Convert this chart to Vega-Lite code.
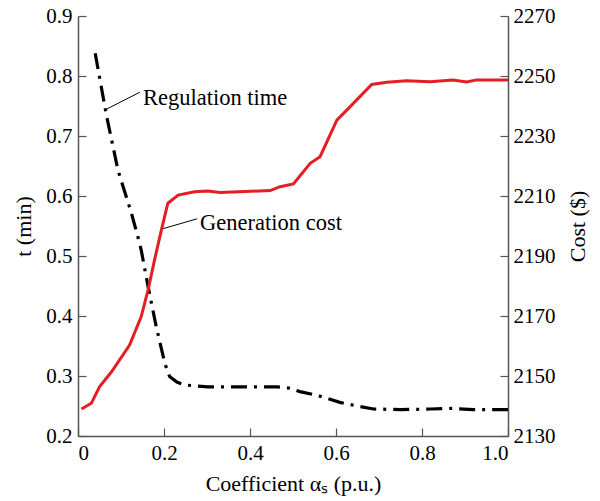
{
  "$schema": "https://vega.github.io/schema/vega-lite/v6.json",
  "width": 430,
  "height": 420,
  "autosize": {"type": "none"},
  "padding": {"left": 78, "top": 16, "right": 92, "bottom": 65},
  "background": "white",
  "config": {
    "view": {"stroke": null},
    "font": "Liberation Serif",
    "axis": {
      "labelFont": "Liberation Serif",
      "titleFont": "Liberation Serif",
      "labelFontSize": 21,
      "titleFontSize": 22,
      "labelColor": "black",
      "titleColor": "black",
      "titleFontWeight": "normal",
      "domainColor": "#555555",
      "domainWidth": 1.5,
      "tickColor": "#555555",
      "tickWidth": 1.2,
      "tickSize": -8,
      "grid": false
    }
  },
  "datasets": {
    "time": [
      {"a": 0.040, "t": 0.838},
      {"a": 0.066, "t": 0.735},
      {"a": 0.093, "t": 0.643},
      {"a": 0.124, "t": 0.572},
      {"a": 0.140, "t": 0.530},
      {"a": 0.147, "t": 0.510},
      {"a": 0.163, "t": 0.449},
      {"a": 0.182, "t": 0.382},
      {"a": 0.202, "t": 0.321},
      {"a": 0.213, "t": 0.299},
      {"a": 0.230, "t": 0.290},
      {"a": 0.248, "t": 0.285},
      {"a": 0.302, "t": 0.282},
      {"a": 0.400, "t": 0.282},
      {"a": 0.462, "t": 0.282},
      {"a": 0.490, "t": 0.280},
      {"a": 0.516, "t": 0.274},
      {"a": 0.555, "t": 0.268},
      {"a": 0.609, "t": 0.256},
      {"a": 0.656, "t": 0.249},
      {"a": 0.687, "t": 0.245},
      {"a": 0.750, "t": 0.244},
      {"a": 0.820, "t": 0.245},
      {"a": 0.870, "t": 0.246},
      {"a": 0.920, "t": 0.244},
      {"a": 1.000, "t": 0.244}
    ],
    "cost": [
      {"a": 0.008, "c": 2139.0},
      {"a": 0.031, "c": 2140.9},
      {"a": 0.050, "c": 2146.4},
      {"a": 0.078, "c": 2151.4},
      {"a": 0.120, "c": 2160.3},
      {"a": 0.147, "c": 2169.8},
      {"a": 0.163, "c": 2178.7},
      {"a": 0.178, "c": 2188.7},
      {"a": 0.194, "c": 2198.7},
      {"a": 0.209, "c": 2207.6},
      {"a": 0.233, "c": 2210.3},
      {"a": 0.271, "c": 2211.4},
      {"a": 0.302, "c": 2211.7},
      {"a": 0.330, "c": 2211.2},
      {"a": 0.390, "c": 2211.5},
      {"a": 0.447, "c": 2211.8},
      {"a": 0.470, "c": 2213.1},
      {"a": 0.501, "c": 2214.0},
      {"a": 0.540, "c": 2220.9},
      {"a": 0.563, "c": 2223.1},
      {"a": 0.602, "c": 2235.3},
      {"a": 0.633, "c": 2239.8},
      {"a": 0.683, "c": 2247.2},
      {"a": 0.718, "c": 2247.9},
      {"a": 0.764, "c": 2248.4},
      {"a": 0.819, "c": 2248.1},
      {"a": 0.872, "c": 2248.7},
      {"a": 0.904, "c": 2248.0},
      {"a": 0.927, "c": 2248.7},
      {"a": 1.000, "c": 2248.7}
    ],
    "labels": [
      {"a": 0.151, "t": 0.763, "label": "Regulation time"},
      {"a": 0.284, "t": 0.555, "label": "Generation cost"}
    ],
    "leaders": [
      {"a": 0.067, "t": 0.745, "a2": 0.144, "t2": 0.773},
      {"a": 0.195, "t": 0.545, "a2": 0.277, "t2": 0.562}
    ]
  },
  "layer": [
    {
      "layer": [
        {
          "data": {"name": "time"},
          "mark": {"type": "line", "color": "black", "strokeWidth": 3.2, "strokeDash": [16, 7, 3, 7], "strokeCap": "butt"},
          "encoding": {
            "x": {
              "field": "a", "type": "quantitative",
              "scale": {"domain": [0, 1]},
              "axis": {"values": [0, 0.2, 0.4, 0.6, 0.8, 1.0], "labelExpr": "datum.value == 0 ? '0' : format(datum.value, '.1f')", "title": "Coefficient α\u209b (p.u.)", "labelPadding": 14, "titlePadding": 10}
            },
            "y": {
              "field": "t", "type": "quantitative",
              "scale": {"domain": [0.2, 0.9]},
              "axis": {"values": [0.2, 0.3, 0.4, 0.5, 0.6, 0.7, 0.8, 0.9], "format": ".1f", "title": "t (min)", "labelPadding": 14, "titlePadding": 10}
            }
          }
        },
        {
          "data": {"name": "leaders"},
          "mark": {"type": "rule", "color": "black", "strokeWidth": 1},
          "encoding": {
            "x": {"field": "a", "type": "quantitative"},
            "y": {"field": "t", "type": "quantitative"},
            "x2": {"field": "a2"},
            "y2": {"field": "t2"}
          }
        },
        {
          "data": {"name": "labels"},
          "mark": {"type": "text", "align": "left", "baseline": "middle", "font": "Liberation Serif", "fontSize": 22.5, "color": "black"},
          "encoding": {
            "x": {"field": "a", "type": "quantitative"},
            "y": {"field": "t", "type": "quantitative"},
            "text": {"field": "label"}
          }
        }
      ]
    },
    {
      "data": {"name": "cost"},
      "mark": {"type": "line", "color": "#e31e24", "strokeWidth": 3},
      "encoding": {
        "x": {"field": "a", "type": "quantitative"},
        "y": {
          "field": "c", "type": "quantitative",
          "scale": {"domain": [2130, 2270]},
          "axis": {"orient": "right", "values": [2130, 2150, 2170, 2190, 2210, 2230, 2250, 2270], "format": "d", "title": "Cost ($)", "titleAngle": 270, "titleBaseline": "top", "labelPadding": 13, "titlePadding": 12}
        }
      }
    }
  ],
  "resolve": {"scale": {"y": "independent"}}
}
